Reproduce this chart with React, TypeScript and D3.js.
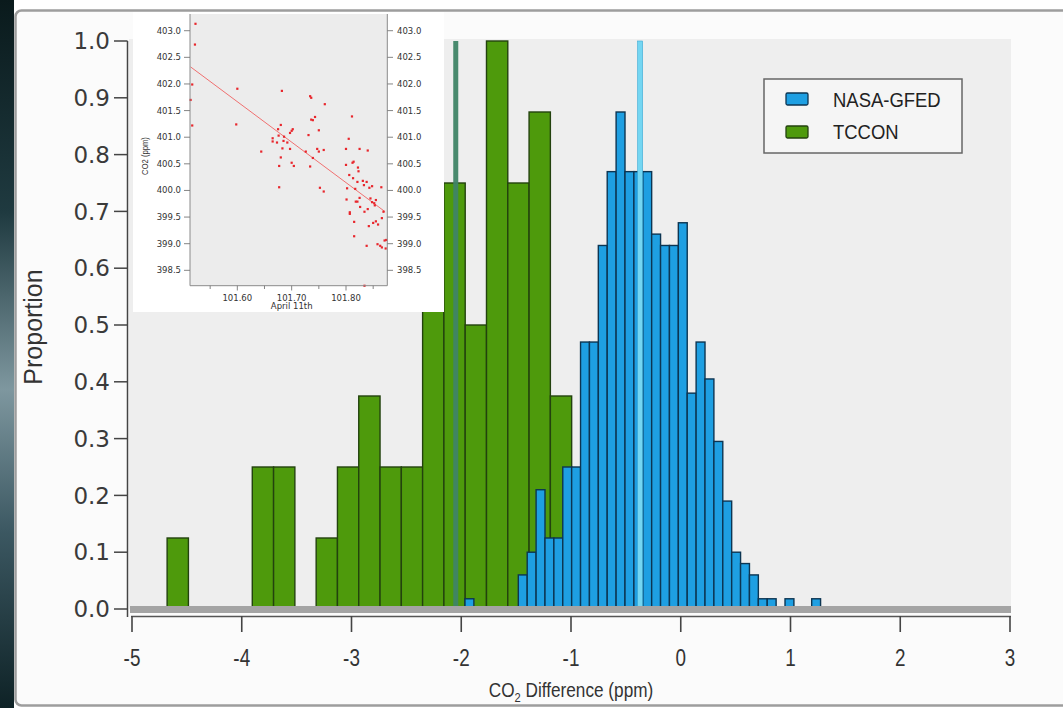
import React from 'react';
import * as d3 from 'd3';

// ---------- main histogram data ----------
const xTicks = [-5, -4, -3, -2, -1, 0, 1, 2, 3];
const yTicks = [0, 0.1, 0.2, 0.3, 0.4, 0.5, 0.6, 0.7, 0.8, 0.9, 1.0];
const seriesNames = ['NASA-GFED', 'TCCON'];

const tcconBinStart = -4.68;
const tcconBinWidth = 0.194;
const tcconValues = [
  0.125, 0, 0, 0, 0.25, 0.25, 0, 0.125, 0.25, 0.375,
  0.25, 0.25, 0.625, 0.75, 0.5, 1.0, 0.75, 0.875, 0.375,
];

const nasaBinStart = -1.966;
const nasaBinWidth = 0.081;
const nasaValues = [
  0.018, 0, 0, 0, 0, 0,
  0.06, 0.1, 0.21, 0.125, 0.125, 0.25, 0.25, 0.47, 0.47, 0.64,
  0.77, 0.875, 0.77, 0.77, 0.77, 0.66, 0.64, 0.64, 0.68, 0.38,
  0.47, 0.405, 0.295, 0.19, 0.1, 0.08, 0.06, 0.018, 0.018,
  0, 0.018, 0, 0, 0.018,
];

const tcconMean = -2.05;
const nasaMean = -0.37;

// ---------- inset data ----------
const insetTime = [
  101.523, 101.522, 101.517, 101.514, 101.517, 101.600, 101.598, 101.644, 101.682, 101.680,
  101.675, 101.676, 101.665, 101.665, 101.673, 101.686, 101.685, 101.692, 101.683, 101.680,
  101.677, 101.677, 101.697, 101.700, 101.702, 101.697, 101.700, 101.704, 101.726, 101.731,
  101.734, 101.736, 101.736, 101.739, 101.743, 101.734, 101.739, 101.747, 101.750, 101.750,
  101.752, 101.759, 101.759, 101.761, 101.800, 101.805, 101.800, 101.811, 101.812, 101.814,
  101.825, 101.840, 101.822, 101.823, 101.806, 101.813, 101.821, 101.831, 101.833, 101.838,
  101.848, 101.843, 101.865, 101.802, 101.817, 101.801, 101.818, 101.821, 101.825, 101.826,
  101.845, 101.848, 101.852, 101.855, 101.853, 101.840, 101.834, 101.807, 101.807, 101.815,
  101.855, 101.850, 101.859, 101.842, 101.866, 101.869, 101.815, 101.838, 101.858, 101.863,
  101.866, 101.871, 101.874, 101.873, 101.834,
];
const insetCO2 = [
  403.13, 402.74, 401.99, 401.70, 401.22, 401.91, 401.24, 400.73, 401.87, 401.23,
  401.15, 401.03, 400.98, 400.92, 400.90, 401.01, 400.93, 400.90, 400.79, 400.62,
  400.46, 400.06, 401.08, 401.12, 401.15, 400.78, 400.52, 400.46, 400.73, 401.04,
  401.77, 401.74, 401.33, 401.32, 401.38, 400.45, 400.61, 400.78, 400.73, 401.13,
  400.05, 399.98, 400.76, 401.62, 400.78, 400.97, 400.48, 401.39, 400.52, 400.54,
  400.78, 400.75, 400.43, 400.36, 400.29, 400.23, 400.16, 400.18, 400.10, 400.16,
  400.08, 400.05, 400.06, 400.04, 400.03, 399.83, 399.79, 399.79, 399.86, 399.69,
  399.85, 399.78, 399.76, 399.82, 399.72, 399.65, 399.60, 399.59, 399.56, 399.41,
  399.42, 399.39, 399.36, 399.33, 399.48, 399.60, 399.14, 398.96, 398.99, 398.96,
  398.93, 399.06, 399.07, 398.91, 398.21,
];
const fitTime = [101.514, 101.872];
const fitCO2 = [402.32, 399.6];
const insetYTicks = [398.5, 399.0, 399.5, 400.0, 400.5, 401.0, 401.5, 402.0, 402.5, 403.0];
const insetXMajor = [101.6, 101.7, 101.8];
const insetXMinor = [101.55, 101.65, 101.75, 101.85];

const BLUE = '#1e9fe2';
const BLUE_EDGE = '#0c3552';
const GREEN = '#4e9a0c';
const GREEN_EDGE = '#23420e';
const NARROW = 'Liberation Sans, Arial, sans-serif';

export default function App() {
  const W = 1063;
  const H = 708;
  const x = d3.scaleLinear().domain([-5, 3]).range([132, 1010]);
  const y = d3.scaleLinear().domain([0, 1]).range([609, 41]);

  const xi = d3.scaleLinear().domain([101.5129, 101.876]).range([190, 387.3]);
  const yi = d3.scaleLinear().domain([398.211, 403.314]).range([285.7, 14]);
  const fitLine = d3.line<number>()
    .x((_, i) => xi(fitTime[i]))
    .y((d) => yi(d));

  const fmtY = d3.format('.1f');
  const fmtI = d3.format('.1f');
  const fmtIX = d3.format('.2f');

  const bars = (start: number, width: number, vals: number[], fill: string, edge: string, key: string) =>
    vals.map((v, i) => {
      if (v <= 0) return null;
      const x0 = x(start + i * width);
      const x1 = x(start + (i + 1) * width);
      return (
        <rect key={key + i} x={x0} y={y(v)} width={x1 - x0} height={y(0) - y(v)}
          fill={fill} stroke={edge} strokeWidth={1.4} />
      );
    });

  return (
    <div style={{ position: 'fixed', left: 0, top: 0 }}>
      <svg width={W} height={H} viewBox={`0 0 ${W} ${H}`} xmlns="http://www.w3.org/2000/svg">
        <defs>
          <linearGradient id="strip" x1="0" y1="0" x2="0" y2="1">
            <stop offset="0" stopColor="#0a1a1c" />
            <stop offset="0.3" stopColor="#1f3a40" />
            <stop offset="0.55" stopColor="#7e979f" />
            <stop offset="0.75" stopColor="#3c5862" />
            <stop offset="1" stopColor="#0e2226" />
          </linearGradient>
        </defs>
        <rect x={0} y={0} width={W} height={H} fill="#ffffff" />
        <rect x={0} y={0} width={14} height={H} fill="url(#strip)" />
        <rect x={15.5} y={10.5} width={1100} height={695} rx={6} fill="#fbfbfb" stroke="#9d9d9d" strokeWidth={2.5} />

        {/* plot background */}
        <rect x={129} y={39} width={882} height={570} fill="#eeeeee" />

        {/* bars */}
        <g>{bars(tcconBinStart, tcconBinWidth, tcconValues, GREEN, GREEN_EDGE, 't')}</g>
        <g>{bars(nasaBinStart, nasaBinWidth, nasaValues, BLUE, BLUE_EDGE, 'n')}</g>

        {/* mean lines */}
        <rect x={x(tcconMean) - 2.5} y={y(1)} width={5} height={y(0) - y(1)} fill="#3f8466" opacity={0.95} />
        <rect x={x(nasaMean) - 2.5} y={y(1)} width={5} height={y(0) - y(1)} fill="#74d6f2" stroke="#3aa9d4" strokeWidth={0.6} />

        {/* baseline band */}
        <rect x={130} y={606} width={881} height={7} fill="#a4a4a4" />

        {/* x axis */}
        <line x1={131} x2={1011} y1={616.5} y2={616.5} stroke="#555" strokeWidth={1.3} />
        {xTicks.map((t) => (
          <g key={'xt' + t}>
            <line x1={x(t)} x2={x(t)} y1={616} y2={632} stroke="#444" strokeWidth={1.6} />
            <text transform={`translate(${x(t)},666) scale(0.82,1)`} textAnchor="middle" fontFamily={NARROW}
              fontSize={23} fill="#333">{t}</text>
          </g>
        ))}
        <text transform="translate(571,697) scale(0.86,1)" textAnchor="middle" fontFamily={NARROW} fontSize={20}
          fill="#333">
          CO<tspan fontSize={13} dy={5}>2</tspan><tspan dy={-5}> Difference (ppm)</tspan>
        </text>

        {/* y axis */}
        <line x1={127.5} x2={127.5} y1={y(1)} y2={617} stroke="#444" strokeWidth={1.5} />
        {yTicks.map((t) => (
          <g key={'yt' + t}>
            <line x1={114} x2={127.5} y1={y(t)} y2={y(t)} stroke="#444" strokeWidth={1.5} />
            <text x={110} y={y(t)} dy="0.36em" textAnchor="end" fontFamily="DejaVu Sans, Verdana, sans-serif"
              fontSize={23} fill="#3a3a3a">{fmtY(t)}</text>
          </g>
        ))}
        <text transform={`translate(42,327) rotate(-90)`} textAnchor="middle"
          fontFamily={NARROW} fontSize={25} fill="#333">Proportion</text>

        {/* legend */}
        <rect x={764} y={79} width={198} height={74} fill="#f5f5f5" stroke="#666" strokeWidth={1.5} />
        {seriesNames.map((name, i) => (
          <g key={name}>
            <rect x={786} y={93 + i * 33} width={22} height={12} rx={1.5}
              fill={i === 0 ? BLUE : GREEN} stroke={i === 0 ? BLUE_EDGE : GREEN_EDGE} strokeWidth={1.3} />
            <text transform={`translate(833,${107 + i * 32}) scale(0.9,1)`} fontFamily={NARROW} fontSize={20.5}
              fill="#222">{name}</text>
          </g>
        ))}

        {/* inset */}
        <g>
          <rect x={133} y={12} width={311} height={300} fill="#ffffff" />
          <rect x={190} y={14} width={197.3} height={271.7} fill="#ececec" />
          <path d={fitLine(fitCO2) || ''} fill="none" stroke="#f07070" strokeWidth={1} />
          {insetTime.map((t, i) => (
            <rect key={'p' + i} x={xi(t) - 1.1} y={yi(insetCO2[i]) - 1.1} width={2.2} height={2.2} fill="#e8262c" />
          ))}
          <line x1={190} x2={190} y1={14} y2={285.7} stroke="#8a8a8a" strokeWidth={1} />
          <line x1={387.3} x2={387.3} y1={14} y2={285.7} stroke="#8a8a8a" strokeWidth={1} />
          <line x1={190} x2={387.3} y1={285.7} y2={285.7} stroke="#8a8a8a" strokeWidth={1} />
          {insetYTicks.map((t) => (
            <g key={'iy' + t}>
              <line x1={184} x2={190} y1={yi(t)} y2={yi(t)} stroke="#777" strokeWidth={0.9} />
              <line x1={387.3} x2={393} y1={yi(t)} y2={yi(t)} stroke="#777" strokeWidth={0.9} />
              <text x={181} y={yi(t)} dy="0.35em" textAnchor="end" fontFamily="DejaVu Sans, Verdana, sans-serif"
                fontSize={8.5} fill="#333">{fmtI(t)}</text>
              <text x={397} y={yi(t)} dy="0.35em" textAnchor="start" fontFamily="DejaVu Sans, Verdana, sans-serif"
                fontSize={8.5} fill="#333">{fmtI(t)}</text>
            </g>
          ))}
          {insetXMajor.map((t) => (
            <g key={'ix' + t}>
              <line x1={xi(t)} x2={xi(t)} y1={285.7} y2={290.5} stroke="#777" strokeWidth={0.9} />
              <text x={xi(t)} y={301} textAnchor="middle" fontFamily="DejaVu Sans, Verdana, sans-serif"
                fontSize={8.5} fill="#333">{fmtIX(t)}</text>
            </g>
          ))}
          {insetXMinor.map((t) => (
            <line key={'im' + t} x1={xi(t)} x2={xi(t)} y1={285.7} y2={289} stroke="#777" strokeWidth={0.9} />
          ))}
          <text x={291.7} y={309} textAnchor="middle" fontFamily="DejaVu Sans, Verdana, sans-serif"
            fontSize={8.5} fill="#333">April 11th</text>
          <text transform="translate(148,156) rotate(-90) scale(0.9,1)" textAnchor="middle"
            fontFamily={NARROW} fontSize={8.5} fill="#333">CO2 (ppm)</text>
        </g>
      </svg>
    </div>
  );
}
